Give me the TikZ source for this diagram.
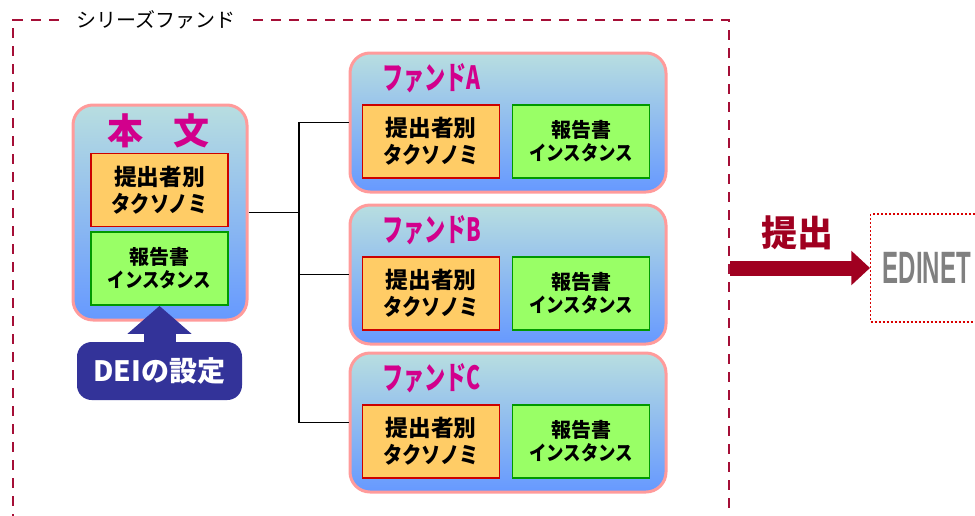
\documentclass[tikz,border=0pt]{standalone}
\usepackage{fontspec}
\setmainfont{Noto Sans CJK JP}
\newfontfamily\lat{Liberation Sans}
\usetikzlibrary{arrows.meta,positioning}
\definecolor{frm}{RGB}{165,15,55}
\definecolor{ttlc}{RGB}{210,0,140}
\definecolor{pinkb}{RGB}{255,155,155}
\definecolor{topc}{RGB}{184,222,224}
\definecolor{botc}{RGB}{102,153,255}
\definecolor{orgf}{RGB}{255,204,102}
\definecolor{orgd}{RGB}{204,0,0}
\definecolor{grnf}{RGB}{153,255,102}
\definecolor{grnd}{RGB}{0,153,0}
\definecolor{navy}{RGB}{51,51,153}
\definecolor{subc}{RGB}{160,0,32}
\definecolor{edic}{RGB}{128,128,128}
\newcommand{\nar}[2][0.85]{\scalebox{#1}[1]{#2}}
\tikzset{
  outerbox/.style={draw=pinkb, line width=2.25pt, rounded corners=15pt,
    top color=topc, bottom color=botc, inner sep=0pt},
  taxbox/.style={draw=orgd, line width=1.1pt, fill=orgf, minimum width=103pt,
    minimum height=55pt, inner sep=0pt, align=center,
    font=\bfseries\fontsize{17}{20}\selectfont},
  insbox/.style={draw=grnd, line width=1.1pt, fill=grnf, minimum width=103pt,
    minimum height=55pt, inner sep=0pt, align=center,
    font=\bfseries\fontsize{15}{17}\selectfont},
  fundttl/.style={text=ttlc, anchor=west, inner sep=0pt,
    font=\bfseries\fontsize{24}{24}\selectfont},
  frame/.style={frm, line width=2.1pt, dash pattern=on 7.5pt off 6pt},
  branch/.style={black, line width=0.9pt},
}
\begin{document}
\begin{tikzpicture}[x=0.75pt, y=-0.75pt]
  \path[use as bounding box, clip] (0,0) rectangle (975,515);
  % シリーズファンドの枠
  \node[inner xsep=13pt, inner ysep=0pt, font=\fontsize{15}{15}\selectfont] (ttl) at (156,20) {シリーズファンド};
  \draw[frame] (ttl.west) -- (13,20) -- (13,540);
  \draw[frame] (ttl.east) -- (729,20) -- (729,540);
  % 本文
  \node[outerbox, minimum width=130.5pt, minimum height=161.25pt] (honbun) at (160,212.5) {};
  \node[text=ttlc, inner sep=0pt, font=\bfseries\fontsize{27}{27}\selectfont] (hbttl) at (158.5,131) {本\hspace{0.85em}文};
  \node[taxbox] (tax0) at (159.5,190) {提出者別\\\nar{タクソノミ}};
  \node[insbox] (ins0) at (159.5,268.5) {報告書\\\nar[0.87]{インスタンス}};
  % DEIの設定
  \node[fill=navy, text=white, rounded corners=11pt, minimum width=123.75pt,
    minimum height=43.5pt, inner sep=0pt, font=\bfseries\fontsize{21}{21}\selectfont] (dei) at (159.5,371) {DEIの設定};
  \draw[navy, line width=24pt, -{Triangle[width=47pt,length=21pt]}] (dei.north) -- (ins0.south);
  % ファンドA, B, C
  \foreach \f/\y in {A/122.5,B/274.5,C/422.5}{
    \node[outerbox, minimum width=237pt, minimum height=104.25pt] (fund\f) at (508,\y) {};
    \node[fundttl] (fttl\f) at (382,\y-44.5) {\nar[0.66]{ファンド\f}};
    \node[taxbox] (tax\f) at (431,\y+19) {提出者別\\\nar{タクソノミ}};
    \node[insbox] (ins\f) at (581,\y+19) {報告書\\\nar[0.87]{インスタンス}};
  }
  % 接続線
  \coordinate (br) at (299,212.5);
  \draw[branch] (honbun.east) -- (br);
  \draw[branch] (fundA.west) -| (br) |- (fundC.west);
  \draw[branch] (fundB.west) -- (fundB.west -| br);
  % 提出
  \node[draw=red!85!black, line width=1.1pt, dash pattern=on 1.5pt off 1.5pt,
    anchor=west, minimum height=81pt, inner xsep=9pt, text width=79.5pt, align=left,
    text=edic, font=\lat\bfseries\fontsize{34}{34}\selectfont] (edinet) at (870,268) {\nar[0.53]{EDINET}};
  \coordinate (subst) at (730,268);
  \draw[subc, line width=11.25pt, -{Triangle[width=25pt,length=14pt]}] (subst) -- (edinet.west);
  \node[text=subc, inner sep=0pt, font=\bfseries\fontsize{27}{27}\selectfont] (subttl) at (797,233) {提出};
\end{tikzpicture}
\end{document}
